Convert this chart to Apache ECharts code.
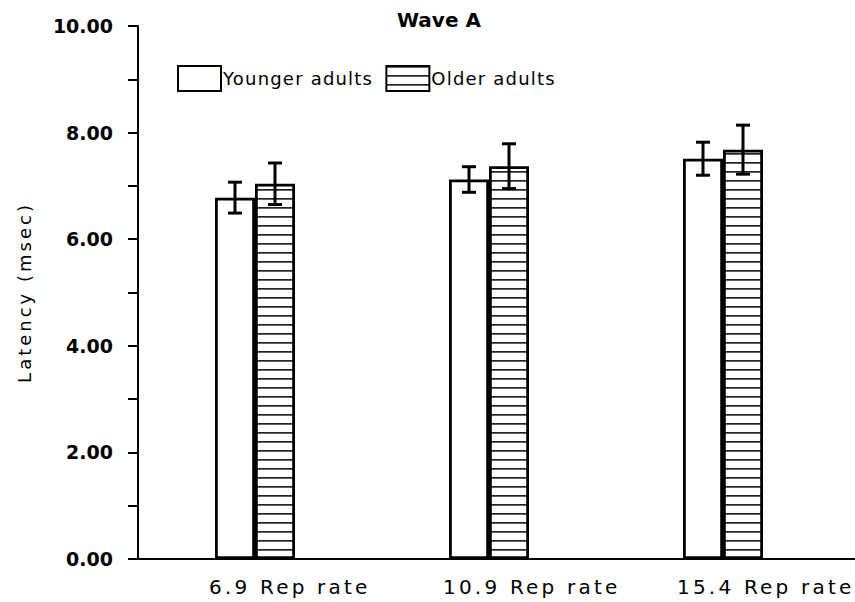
<!DOCTYPE html>
<html>
<head>
<meta charset="utf-8">
<script src="https://cdn.jsdelivr.net/npm/echarts@6/dist/echarts.min.js"></script>
<style>html,body{margin:0;padding:0;background:#fff;}#c{width:855px;height:602px;}</style>
</head>
<body>
<div id="c"></div>
<script>
const categories = ['6.9 Rep rate', '10.9 Rep rate', '15.4 Rep rate'];
const seriesNames = ['Younger adults', 'Older adults'];
const youngerMeans = [6.78, 7.12, 7.51];
const youngerErr = [0.29, 0.24, 0.31];
const olderMeans = [7.04, 7.37, 7.68];
const olderErr = [0.39, 0.42, 0.46];
const yTicks = [0, 2, 4, 6, 8, 10];
const titleText = 'Wave A';
const yAxisName = 'Latency (msec)';

const chart = echarts.init(document.getElementById('c'), null, { renderer: 'svg' });

const pc = document.createElement('canvas');
pc.width = 8; pc.height = 9;
const px = pc.getContext('2d');
px.fillStyle = '#fff'; px.fillRect(0, 0, 8, 9);
px.fillStyle = '#222'; px.fillRect(0, 0, 8, 1.7);
const hatch = { image: pc.toDataURL(), repeat: 'repeat', imageWidth: 8, imageHeight: 9 };

const FONT = 'DejaVu Sans';

function errSeries(name, means, errs, offset) {
  return {
    type: 'custom',
    name: name + ' err',
    z: 10,
    silent: true,
    data: means.map((m, i) => [i, m - errs[i], m + errs[i]]),
    renderItem: function (params, api) {
      const c = api.value(0);
      const lo = api.coord([c, api.value(1)]);
      const hi = api.coord([c, api.value(2)]);
      const x = lo[0] + offset;
      const w = 7;
      const st = { stroke: '#000', lineWidth: 3 };
      return {
        type: 'group',
        children: [
          { type: 'line', shape: { x1: x, y1: lo[1], x2: x, y2: hi[1] }, style: st },
          { type: 'line', shape: { x1: x - w, y1: lo[1], x2: x + w, y2: lo[1] }, style: st },
          { type: 'line', shape: { x1: x - w, y1: hi[1], x2: x + w, y2: hi[1] }, style: st }
        ]
      };
    }
  };
}

chart.setOption({
  animation: false,
  backgroundColor: '#fff',
  title: {
    text: titleText,
    left: 392, top: 5,
    textStyle: { fontFamily: FONT, fontSize: 20, fontWeight: 'bold', color: '#000' }
  },
  legend: {
    left: 172, top: 60,
    itemWidth: 43, itemHeight: 25, itemGap: 29,
    icon: 'rect',
    data: seriesNames,
    textStyle: { fontFamily: FONT, fontSize: 18, color: '#000', padding: [0, 0, 0, -3] }
  },
  grid: { left: 138, right: 15, top: 26, bottom: 43, containLabel: false },
  xAxis: {
    type: 'category',
    data: categories,
    axisLine: { lineStyle: { color: '#000', width: 2 } },
    axisTick: { show: false },
    axisLabel: {
      fontFamily: FONT, fontSize: 20, color: '#000', margin: 18,
      align: 'left', padding: [0, 0, 0, -46]
    }
  },
  yAxis: {
    type: 'value',
    min: 0, max: 10, interval: 1,
    name: yAxisName,
    nameLocation: 'middle',
    nameGap: 105,
    nameTextStyle: { fontFamily: FONT, fontSize: 18, color: '#000' },
    axisLine: { show: true, lineStyle: { color: '#000', width: 2 } },
    axisTick: { show: true, length: 10, lineStyle: { color: '#000', width: 2 } },
    splitLine: { show: false },
    axisLabel: {
      fontFamily: FONT, fontSize: 19, fontWeight: 'bold', color: '#000', margin: 25,
      formatter: function (v) { return yTicks.indexOf(v) >= 0 ? v.toFixed(2) : ''; }
    }
  },
  graphic: [
    { type: 'line', shape: { x1: 838, y1: 559, x2: 855, y2: 559 }, style: { stroke: '#000', lineWidth: 2 } }
  ],
  series: [
    {
      type: 'bar', name: seriesNames[0],
      data: youngerMeans,
      barWidth: 40, barGap: '0%',
      itemStyle: { color: '#fff', borderColor: '#000', borderWidth: 2.8 }
    },
    {
      type: 'bar', name: seriesNames[1],
      data: olderMeans,
      barWidth: 40, barGap: '0%',
      itemStyle: { color: hatch, borderColor: '#000', borderWidth: 2.8 }
    },
    errSeries(seriesNames[0], youngerMeans, youngerErr, -20),
    errSeries(seriesNames[1], olderMeans, olderErr, 20)
  ]
});

function spaceText() {
  const texts = document.querySelectorAll('#c svg text');
  texts.forEach(function (t) {
    const s = t.textContent;
    if (categories.indexOf(s) >= 0) t.style.letterSpacing = '3.2px';
    else if (seriesNames.indexOf(s) >= 0) t.style.letterSpacing = '1.2px';
    else if (s === yAxisName) t.style.letterSpacing = '3px';
  });
}
chart.on('finished', spaceText);
spaceText();
</script>
</body>
</html>
